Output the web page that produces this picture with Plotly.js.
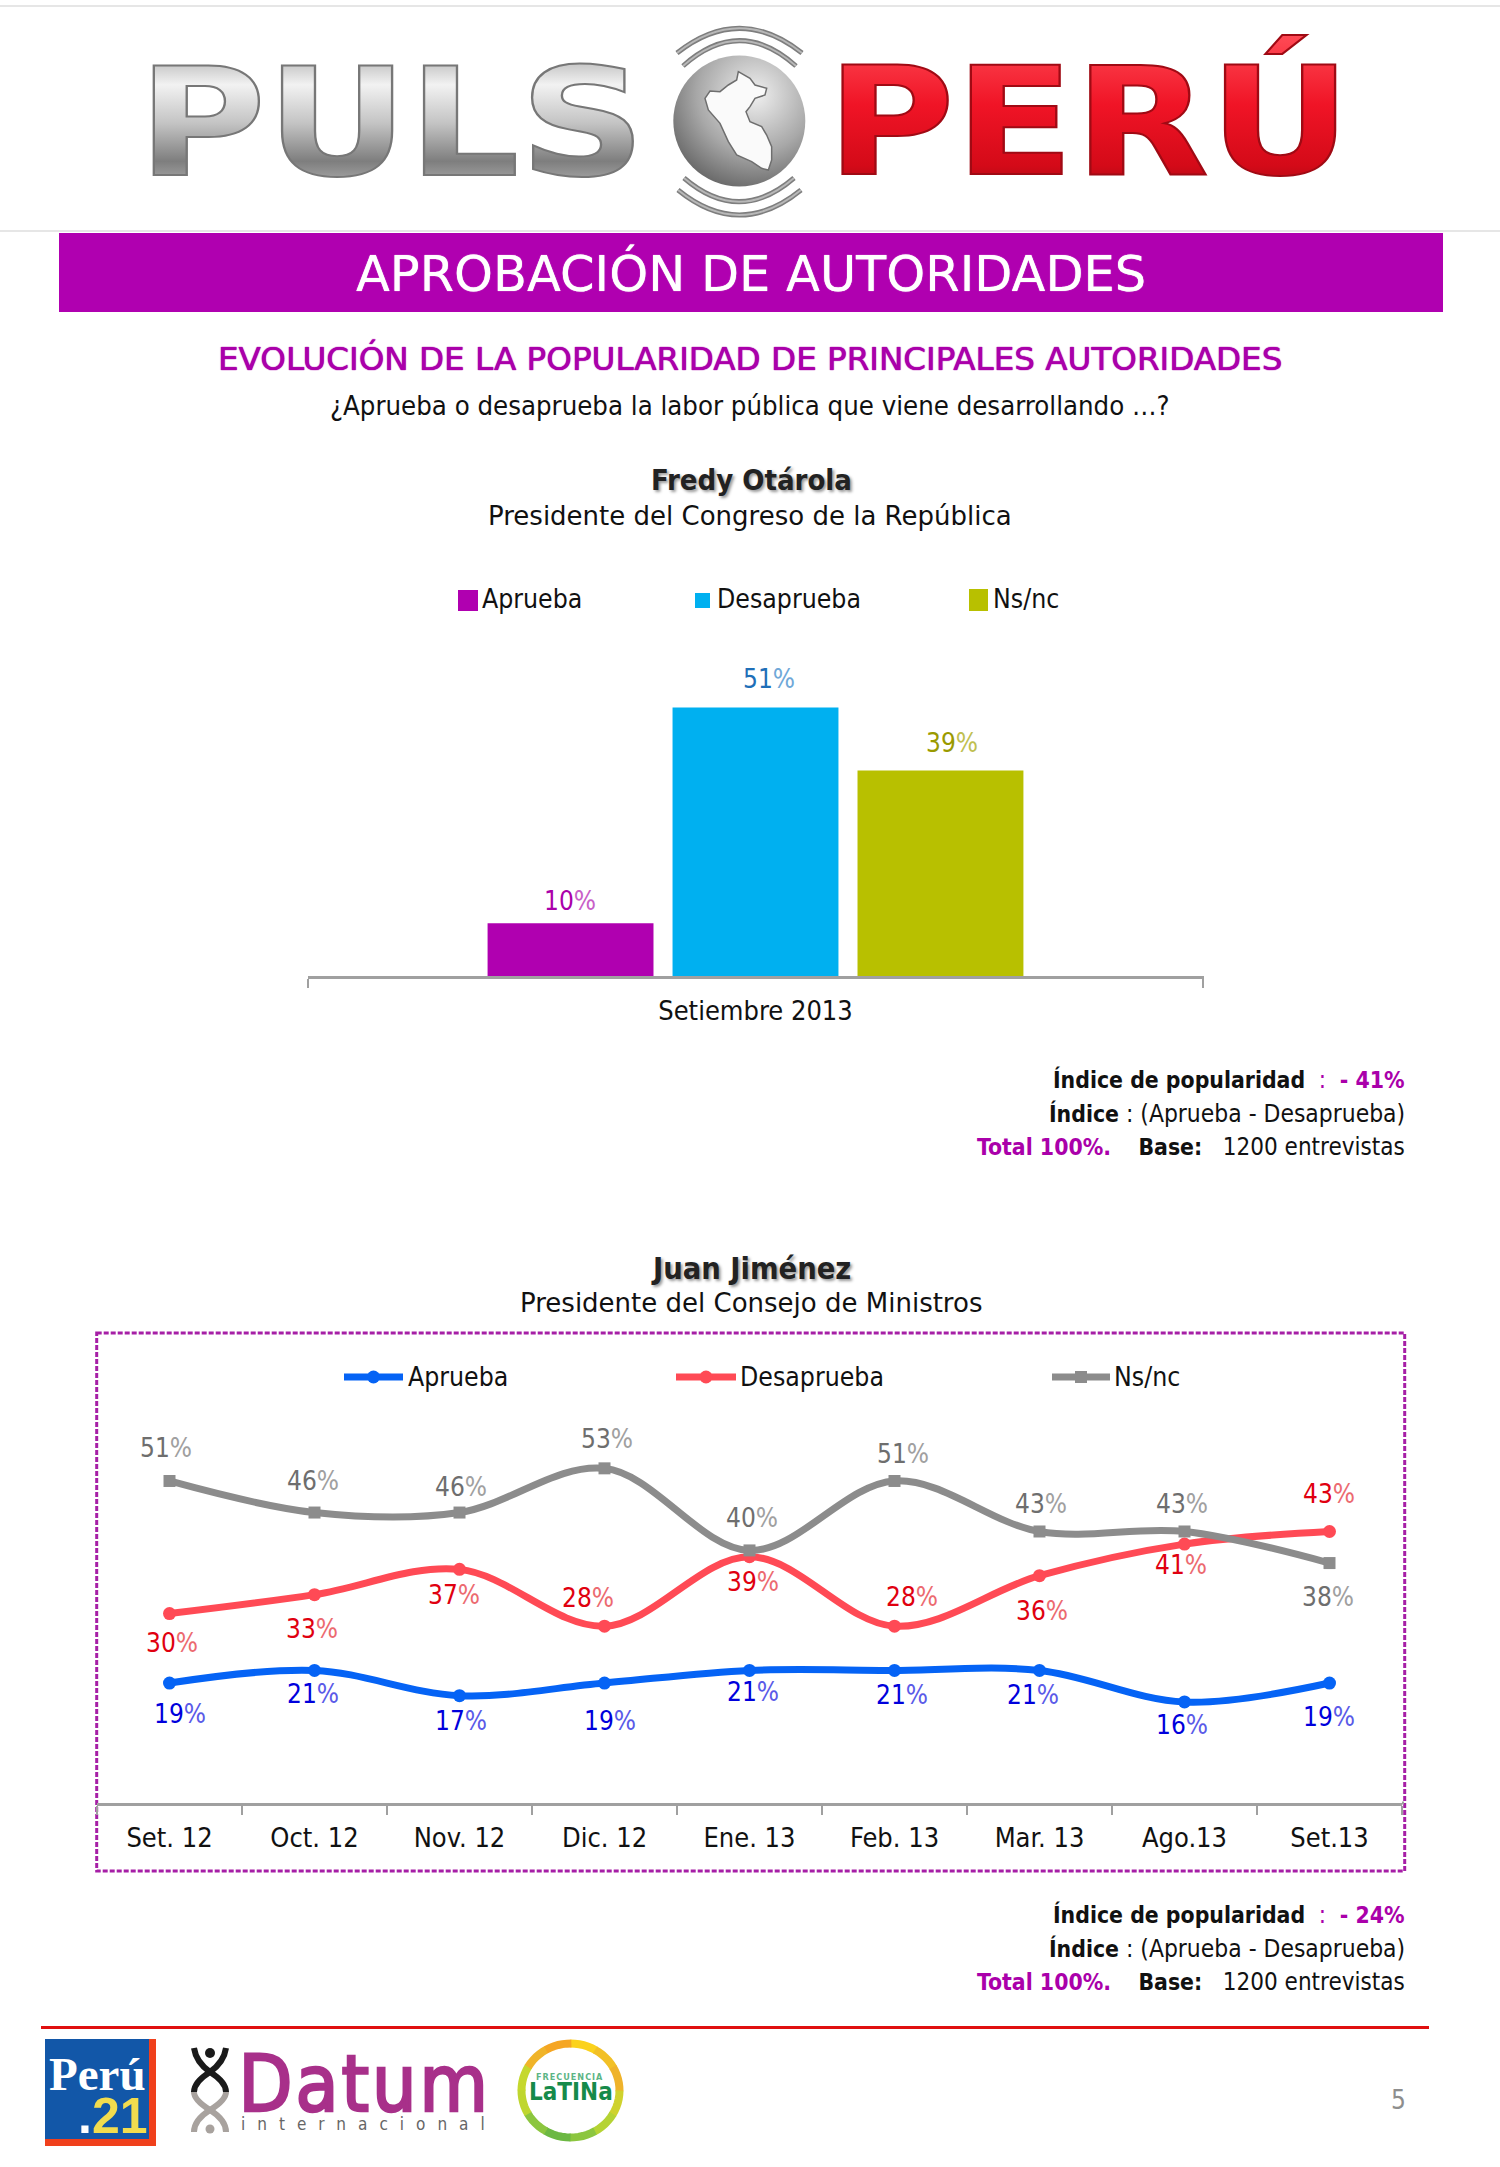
<!DOCTYPE html>
<html><head><meta charset="utf-8">
<script src="https://cdn.plot.ly/plotly-3.0.1.min.js"></script>
<style>html,body{margin:0;padding:0;background:#fff}</style></head>
<body><div id="chart" style="width:1500px;height:2167px"></div>
<script>
// ---------- data ----------
const barCategory = ['Setiembre 2013'];
const seriesNames = ['Aprueba', 'Desaprueba', 'Ns/nc'];
const barAprueba = [10];
const barDesaprueba = [51];
const barNsnc = [39];
const months = ['Set. 12','Oct. 12','Nov. 12','Dic. 12','Ene. 13','Feb. 13','Mar. 13','Ago.13','Set.13'];
const lineAprueba = [19,21,17,19,21,21,21,16,19];
const lineDesaprueba = [30,33,37,28,39,28,36,41,43];
const lineNsnc = [51,46,46,53,40,51,43,43,38];
// label offsets from their points, in pixels
const dxBar = [-186,13,196], dyBar = [22,28,28];
const dxA = [10,-2,1,5,3,7,-7,-3,-1], dyA = [-31,-24,-25,-38,-22,-25,-25,-23,-34];
const dxD = [2,-3,-6,-17,3,17,2,-4,-1], dyD = [-29,-34,-26,28,-25,29,-35,-21,37];
const dxN = [-4,-2,1,2,2,8,1,-3,-2], dyN = [33,32,26,29,32,27,27,27,-34];

// ---------- style ----------
const W = 1500, H = 2167;
const COND = '"DejaVu Sans Condensed","DejaVu Sans",sans-serif';
const NORM = '"DejaVu Sans",sans-serif';
const PURPLE = '#B000B0', CYAN = '#00B0F0', OLIVE = '#B8C000';
const LBLUE = '#0563F5', LRED = '#FF4A55', LGREY = '#8C8C8C';
const px = x => x / W, py = y => 1 - y / H;

const shapes = [], ann = [];
function rect(x0,y0,x1,y1,fill,line){
  shapes.push({type:'rect',xref:'paper',yref:'paper',x0:px(x0),x1:px(x1),y0:py(y0),y1:py(y1),
    fillcolor:fill,line:line||{width:0},layer:'below'});
}
function disc(cx,cy,rx,ry,fill){
  shapes.push({type:'circle',xref:'paper',yref:'paper',x0:px(cx-rx),x1:px(cx+rx),y0:py(cy+ry),y1:py(cy-ry),
    fillcolor:fill,line:{width:0},layer:'below'});
}
function hline(x0,x1,y,color,w){
  shapes.push({type:'line',xref:'paper',yref:'paper',x0:px(x0),x1:px(x1),y0:py(y),y1:py(y),
    line:{color:color,width:w},layer:'below'});
}
function path(d,stroke,w,fill){
  const s = d.map(seg=>{
    if(seg[0]==='L'){
      let o=''; for(let i=1;i<seg.length;i+=2) o+='L'+px(seg[i]).toFixed(5)+','+py(seg[i+1]).toFixed(5)+' ';
      return o;
    }
    let o = seg[0];
    for(let i=1;i<seg.length;i+=2) o += (i>1?' ':'') + px(seg[i]).toFixed(5)+','+py(seg[i+1]).toFixed(5);
    return o;
  }).join(' ');
  shapes.push({type:'path',xref:'paper',yref:'paper',path:s,fillcolor:fill||'rgba(0,0,0,0)',
    line:{color:stroke||'rgba(0,0,0,0)',width:w||0},layer:'below'});
}
function text(t,x,y,size,color,opts){
  opts = opts||{};
  ann.push({xref:'paper',yref:'paper',x:px(x),y:py(y),text:t,showarrow:false,
    xanchor:opts.anchor||'center',yanchor:'middle',align:opts.anchor||'center',borderpad:0,
    font:{family:opts.family||COND,size:size,color:color,weight:opts.weight||400,shadow:opts.shadow||'none'}});
}
const pctLabel = (v,l) => v+'<span style="color:'+l+';font-family:\'Liberation Sans Narrow\',\'DejaVu Sans Condensed\'">%</span>';
function dataLabel(xv,yv,dx,dy,xa,ya,c,l){
  ann.push({xref:xa,yref:ya,x:xv,y:yv,xshift:dx,yshift:dy,text:pctLabel(yv,l),showarrow:false,
    xanchor:'center',yanchor:'middle',borderpad:0,font:{family:COND,size:26,color:c}});
}

// ---------- page furniture ----------
hline(0,W,6,'#E6E6E6',2);
hline(0,W,231,'#E6E6E6',2);
rect(59,233,1443,312,PURPLE);
text('APROBACIÓN DE AUTORIDADES',751,273,49.5,'#FFFFFF',{family:NORM,shadow:'0 0 1px #FFFFFF'});
text('EVOLUCIÓN DE LA POPULARIDAD DE PRINCIPALES AUTORIDADES',750,359,32.6,'#AA00AA',{family:NORM,shadow:'0 0 1px #AA00AA, 0 0 1px #AA00AA'});
text('¿Aprueba o desaprueba la labor pública que viene desarrollando …?',750,406,27.3,'#111111');
text('Fredy Otárola',751,480,29,'#222222',{weight:700,shadow:'2px 2px 3px #999'});
text('Presidente del Congreso de la República',750,516,26,'#111111',{family:NORM});
text('Juan Jiménez',751,1268,30.5,'#222222',{weight:700,shadow:'2px 2px 3px #999'});
text('Presidente del Consejo de Ministros',751,1303,26,'#111111',{family:NORM});

// logo
text('PULS',391.5,123.5,150,'#B0B0B0',{family:NORM,weight:700});
text('PERÚ',1089,122,150,'#E0101E',{family:NORM,weight:700});
const gx=739.3, gy=121;
disc(gx,gy,66,65.5,'#A8A8A8');
const globeIndex = shapes.length-1;
const peru = [[295,155],[330,175],[345,195],[380,205],[375,225],[345,235],[330,260],[318,275],[330,305],[365,320],[380,345],[395,380],[395,420],[385,450],[365,445],[335,425],[290,405],[265,365],[240,310],[205,270],[195,235],[210,213],[240,215],[265,195],[290,180]]
  .map(p=>[640+p[0]/3,20+p[1]/3]);
path([['M',peru[0][0],peru[0][1]],['L',...peru.slice(1).flat()],['Z']],'#6E6E6E',1.5,'#FAFAFA');
[[677,53,802,53,28.3],[683,66,796,66,40.7],[684,178,794,178,201.7],[678,190,801,190,215]].forEach(a=>{
  const ctrl = 2*a[4]-a[1];
  path([['M',a[0],a[1]],['Q',(a[0]+a[2])/2,ctrl,a[2],a[3]]],'#7E7E7E',5);
  path([['M',a[0],a[1]],['Q',(a[0]+a[2])/2,ctrl,a[2],a[3]]],'#B8B8B8',2);
});

// frame of the second chart
rect(96.7,1333,1404.7,1871,'rgba(0,0,0,0)',{color:'#A61FA6',width:3,dash:'5px,2px'});
hline(1402,1404,1803,'#A0A0A0',3);
// right-hand end tick of the bar axis
shapes.push({type:'line',xref:'paper',yref:'paper',x0:px(1203),x1:px(1203),y0:py(976),y1:py(985),line:{color:'#A0A0A0',width:2},layer:'below'});

// notes
const bs = t => '<span style="font-size:22.8px"><b>'+t+'</b></span>';
function notes(y,idx){
  text(bs('Índice de popularidad')+'\u00a0\u00a0<span style="color:#AA00AA">:\u00a0\u00a0'+bs('- '+idx+'%')+'</span>',1406,y,24,'#111111',{anchor:'right'});
  text(bs('Índice')+'\u00a0: (Aprueba - Desaprueba)',1406,y+33,24.4,'#111111',{anchor:'right'});
  text('<span style="color:#AA00AA">'+bs('Total 100%.')+'</span>\u00a0\u00a0\u00a0\u00a0'+bs('Base:')+'\u00a0\u00a0\u00a01200 entrevistas',1406,y+67,24,'#111111',{anchor:'right'});
}
notes(1080,41);
notes(1915,24);

// bar legend
[[458,478,590,611,PURPLE,481],[695,710,593,608,CYAN,716],[969,988,589,611,OLIVE,992]].forEach((l,i)=>{
  rect(l[0],l[2],l[1],l[3],l[4]);
  text(seriesNames[i],l[5],599,26.4,'#111111',{anchor:'left'});
});
// line legend
[[344,403,LBLUE,407],[676,736,LRED,739],[1052,1110,LGREY,1113]].forEach((l,i)=>{
  hline(l[0],l[1],1377,l[2],7);
  const c=(l[0]+l[1])/2;
  if(i<2) disc(c,1377,6.5,6.5,l[2]); else rect(c-6,1371,c+6,1383,l[2]);
  text(seriesNames[i],l[3],1377,26.4,'#111111',{anchor:'left'});
});

// footer
hline(41,1429,2027.6,'#E01010',3);
rect(45,2039,156,2146,'#F0401C');
rect(45,2039,149,2139,'#1257A8');
text('Perú',97,2074,47,'#FFFFFF',{family:'"Liberation Serif",serif',weight:700});
text('<span style="color:#FFFFFF">.</span>21',113,2116,50,'#F2DC4E',{family:'"Liberation Sans",sans-serif',weight:700});
disc(210,2053,5,5,'#1A1A1A');
path([['M',194,2048],['Q',196,2062,210,2072],['Q',226,2082,226,2092]],'#1A1A1A',6);
path([['M',226,2048],['Q',224,2062,210,2072],['Q',194,2082,194,2092]],'#1A1A1A',6);
path([['M',194,2092],['Q',194,2100,210,2110],['Q',226,2120,226,2132]],'#A8A29E',6);
path([['M',226,2092],['Q',226,2100,210,2110],['Q',194,2120,194,2132]],'#A8A29E',6);
disc(210,2129,4.5,4.5,'#A8A29E');
text('Datum',364,2084,78,'#A8308A');
text('internacional',369,2124,17,'#666666');
const ring = ['#FBD21C','#F2C026','#EFB32B','#CFD22E','#B5D334','#8CC63F','#6CB843','#8CC63F','#BFD62F','#C5D82E','#F0B429','#F5A623'];
ring.forEach((c,i)=>{
  const pts=[]; const a0=i*30-90, a1=a0+31;
  for(let k=0;k<=6;k++){const a=(a0+(a1-a0)*k/6)*Math.PI/180; pts.push(570.5+49*Math.cos(a),2090.5+47*Math.sin(a));}
  path([['M',pts[0],pts[1]],['L',...pts.slice(2)]],c,8);
});
text('FRECUENCIA',570,2077,9,'#5CB585',{weight:700});
text('LaTINa',570.5,2092,24,'#168A4A',{weight:700});
text('5',1398,2100,26,'#8E8E8E');

// data labels
const BC = ['#AA00AA','#1F6FB8','#9A9A00'], BL=['#C860C8','#6FA8D8','#C0C050'];
[barAprueba,barDesaprueba,barNsnc].forEach((s,i)=>dataLabel(barCategory[0],s[0],dxBar[i],dyBar[i],'x','y',BC[i],BL[i]));
months.forEach((m,i)=>{
  dataLabel(m,lineAprueba[i],dxA[i],dyA[i],'x2','y2','#0000DC','#5A5AE8');
  dataLabel(m,lineDesaprueba[i],dxD[i],dyD[i],'x2','y2','#E0000F','#EC6A70');
  dataLabel(m,lineNsnc[i],dxN[i],dyN[i],'x2','y2','#6E6E6E','#A0A0A0');
});

// ---------- traces ----------
const bar = (name,y,color)=>({type:'bar',name,x:barCategory,y,marker:{color},xaxis:'x',yaxis:'y',hoverinfo:'skip'});
const line = (name,y,color,symbol,size)=>({type:'scatter',mode:'lines+markers',name,x:months,y,xaxis:'x2',yaxis:'y2',
  line:{color,width:7,shape:'spline',smoothing:1},marker:{color,size,symbol},cliponaxis:false});
const traces = [
  bar(seriesNames[0],barAprueba,PURPLE),
  bar(seriesNames[1],barDesaprueba,CYAN),
  bar(seriesNames[2],barNsnc,OLIVE),
  line(seriesNames[0],lineAprueba,LBLUE,'circle',13),
  line(seriesNames[1],lineDesaprueba,LRED,'circle',13),
  line(seriesNames[2],lineNsnc,LGREY,'square',12)
];
const catAxis = {type:'category',tickson:'boundaries',ticks:'outside',ticklen:9,tickwidth:2,tickcolor:'#A0A0A0',
  showline:true,linecolor:'#A0A0A0',linewidth:3,showgrid:false,zeroline:false,layer:'above traces',
  tickfont:{family:COND,size:27,color:'#111111'}};
const valAxis = {visible:false,showgrid:false,zeroline:false,fixedrange:true};
const layout = {
  width:W,height:H,margin:{l:0,r:0,t:0,b:0,pad:0},paper_bgcolor:'#fff',plot_bgcolor:'rgba(0,0,0,0)',
  showlegend:false,barmode:'group',bargap:0.38,bargroupgap:0.103,
  xaxis:Object.assign({},catAxis,{domain:[px(308),px(1203)],anchor:'y',ticklabelstandoff:9}),
  yaxis:Object.assign({},valAxis,{domain:[py(976),py(660)],range:[0,60],anchor:'x'}),
  xaxis2:Object.assign({},catAxis,{domain:[px(97),px(1402)],anchor:'y2',range:[-0.5,8.5],ticklabelstandoff:9}),
  yaxis2:Object.assign({},valAxis,{domain:[py(1803),py(1361)],range:[0,70],anchor:'x2'}),
  shapes,annotations:ann
};
Plotly.newPlot('chart',traces,layout,{displayModeBar:false,staticPlot:true}).then(()=>{
  const svg = document.querySelector('#chart .main-svg');
  const defs = svg.querySelector('defs');
  const NS='http://www.w3.org/2000/svg';
  function grad(id,stops,radial){
    const g=document.createElementNS(NS,radial?'radialGradient':'linearGradient');
    g.setAttribute('id',id);
    if(!radial){g.setAttribute('x1','0');g.setAttribute('y1','0');g.setAttribute('x2','0');g.setAttribute('y2','1');}
    else{g.setAttribute('cx','0.62');g.setAttribute('cy','0.3');g.setAttribute('r','0.8');}
    stops.forEach(s=>{const t=document.createElementNS(NS,'stop');t.setAttribute('offset',s[0]);t.setAttribute('stop-color',s[1]);g.appendChild(t);});
    defs.appendChild(g);
  }
  grad('metal',[[0,'#8F8F8F'],[0.28,'#F2F2F2'],[0.5,'#C4C4C4'],[0.72,'#7E7E7E'],[1,'#D8D8D8']]);
  grad('redm',[[0,'#FF4A55'],[0.4,'#F01426'],[0.75,'#D40A18'],[1,'#8E0A12']]);
  grad('globe',[[0,'#F0F0F0'],[0.55,'#A8A8A8'],[1,'#5C5C5C']],true);
  document.querySelectorAll('#chart .annotation-text').forEach(t=>{
    const s=t.textContent;
    if(s==='PULS'||s==='PERÚ'){
      t.style.fill = s==='PULS'?'url(#metal)':'url(#redm)';
      t.style.stroke = s==='PULS'?'#777777':'#A00A14';
      t.style.strokeWidth='2px';
      t.style.transformBox='fill-box';
      t.style.transformOrigin='center';
      t.style.transform='scaleX(1.167)';
    }
    if(s==='Datum'){t.style.stroke='#A8308A';t.style.strokeWidth='2.5px';t.style.letterSpacing='3px';}
    if(s==='internacional'){t.style.letterSpacing='12px';}
    if(s==='FRECUENCIA'){t.style.letterSpacing='1px';}
  });
  const gs=document.querySelectorAll('#chart .layer-below .shapelayer path');
  if(gs[globeIndex]) gs[globeIndex].style.fill='url(#globe)';
});
</script></body></html>
